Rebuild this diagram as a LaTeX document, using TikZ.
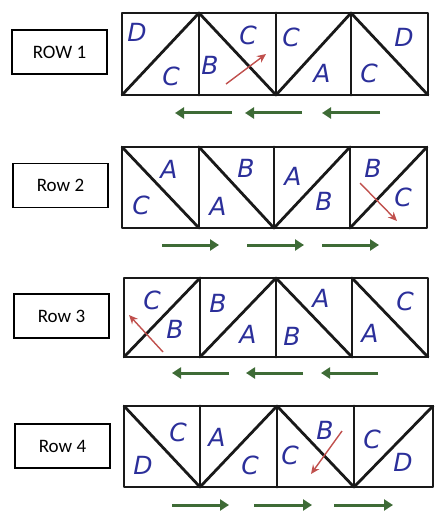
\documentclass[tikz,border=0pt]{standalone}
\usepackage{fontspec}
\setmainfont{Carlito}
\newfontfamily\handfont{DejaVu Sans}[ItalicFont={DejaVu Sans Oblique}]
\usetikzlibrary{arrows.meta}
\definecolor{inkblue}{HTML}{2B2F9A}
\definecolor{arrred}{HTML}{C0504D}
\definecolor{arrgreen}{HTML}{3E6B36}
\tikzset{
  grid/.style={line width=2.8pt, line cap=round, line join=round, draw=black!90},
  diag/.style={line width=2.8pt, line cap=round, draw=black!90},
  lbl/.style={draw, line width=1.6pt, minimum width=95pt, minimum height=44pt, font=\fontsize{19}{19}\selectfont, inner sep=0pt},
  let/.style={text=inkblue, font=\handfont\itshape\fontsize{25}{25}\selectfont, inner sep=0pt},
  red/.style={draw=arrred, line width=1.4pt, -{Stealth[length=9pt,width=8pt]}},
  grn/.style={draw=arrgreen, line width=3pt, -{Triangle[length=9pt,width=11pt]}}
}
\begin{document}
\begin{tikzpicture}[x=1pt,y=-1pt]
\useasboundingbox (0,0) rectangle (447,513);
% ---------- Row 1 ----------
\node[lbl] (L1) at (59.5,52) {ROW 1};
\draw[grid] (122,13) rectangle (428,95);
\draw[grid] (199,13) -- (199,95) (276,13) -- (276,95) (351,13) -- (351,95);
\draw[diag] (122,95) -- (199,13) (199,13) -- (276,95) (276,95) -- (351,13) (351,13) -- (428,95);
\node[let] (r1a) at (137,32) {D};
\node[let] (r1b) at (171,76) {C};
\node[let] (r1c) at (210,65) {B};
\node[let] (r1d) at (248,35) {C};
\node[let] (r1e) at (291,37) {C};
\node[let] (r1f) at (322,73) {A};
\node[let] (r1g) at (369,73) {C};
\node[let] (r1h) at (404,37) {D};
\coordinate (r1s) at (226,84); \coordinate (r1t) at (266,54);
\draw[red] (r1s) -- (r1t);
\coordinate (g1a) at (232,113); \coordinate (g1b) at (175,113);
\coordinate (g1c) at (302,113); \coordinate (g1d) at (245,113);
\coordinate (g1e) at (380,113); \coordinate (g1f) at (322,113);
\draw[grn] (g1a) -- (g1b); \draw[grn] (g1c) -- (g1d); \draw[grn] (g1e) -- (g1f);
% ---------- Row 2 ----------
\node[lbl] (L2) at (60.5,185.5) {Row 2};
\draw[grid] (122,147) rectangle (427,228);
\draw[grid] (199,147) -- (199,228) (274,147) -- (274,228) (350,147) -- (350,228);
\draw[diag] (122,147) -- (199,228) (199,147) -- (274,228) (274,228) -- (350,147) (350,228) -- (427,147);
\node[let] (r2a) at (169,169) {A};
\node[let] (r2b) at (141,205) {C};
\node[let] (r2c) at (246,168) {B};
\node[let] (r2d) at (218,206) {A};
\node[let] (r2e) at (293,176) {A};
\node[let] (r2f) at (324,201) {B};
\node[let] (r2g) at (373,168) {B};
\node[let] (r2h) at (403,197) {C};
\coordinate (r2s) at (360,183); \coordinate (r2t) at (397,221);
\draw[red] (r2s) -- (r2t);
\coordinate (g2a) at (162,245); \coordinate (g2b) at (219,245);
\coordinate (g2c) at (247,245); \coordinate (g2d) at (304,245);
\coordinate (g2e) at (322,245); \coordinate (g2f) at (379,245);
\draw[grn] (g2a) -- (g2b); \draw[grn] (g2c) -- (g2d); \draw[grn] (g2e) -- (g2f);
% ---------- Row 3 ----------
\node[lbl] (L3) at (61.5,316) {Row 3};
\draw[grid] (124,278) rectangle (428,357);
\draw[grid] (200,278) -- (200,357) (276,278) -- (276,357) (352,278) -- (352,357);
\draw[diag] (124,357) -- (200,278) (200,357) -- (276,278) (276,278) -- (352,357) (352,278) -- (428,357);
\node[let] (r3a) at (152,300) {C};
\node[let] (r3b) at (175,329) {B};
\node[let] (r3c) at (218,303) {B};
\node[let] (r3d) at (248,334) {A};
\node[let] (r3e) at (292,336) {B};
\node[let] (r3f) at (321,298) {A};
\node[let] (r3g) at (370,333) {A};
\node[let] (r3h) at (405,301) {C};
\coordinate (r3s) at (163,352); \coordinate (r3t) at (129,315);
\draw[red] (r3s) -- (r3t);
\coordinate (g3a) at (229,373); \coordinate (g3b) at (172,373);
\coordinate (g3c) at (303,373); \coordinate (g3d) at (246,373);
\coordinate (g3e) at (378,373); \coordinate (g3f) at (321,373);
\draw[grn] (g3a) -- (g3b); \draw[grn] (g3c) -- (g3d); \draw[grn] (g3e) -- (g3f);
% ---------- Row 4 ----------
\node[lbl] (L4) at (62.5,446) {Row 4};
\draw[grid] (124,406) rectangle (433,487);
\draw[grid] (200,406) -- (200,487) (277,406) -- (277,487) (354,406) -- (354,487);
\draw[diag] (124,406) -- (200,487) (200,487) -- (277,406) (277,406) -- (354,487) (354,487) -- (433,406);
\node[let] (r4a) at (178,432) {C};
\node[let] (r4b) at (143,465) {D};
\node[let] (r4c) at (217,437) {A};
\node[let] (r4d) at (250,465) {C};
\node[let] (r4e) at (290,455) {C};
\node[let] (r4f) at (325,430) {B};
\node[let] (r4g) at (372,439) {C};
\node[let] (r4h) at (403,462) {D};
\coordinate (r4s) at (342,431); \coordinate (r4t) at (311,474);
\draw[red] (r4s) -- (r4t);
\coordinate (g4a) at (172,505); \coordinate (g4b) at (229,505);
\coordinate (g4c) at (254,505); \coordinate (g4d) at (312,505);
\coordinate (g4e) at (334,505); \coordinate (g4f) at (393,505);
\draw[grn] (g4a) -- (g4b); \draw[grn] (g4c) -- (g4d); \draw[grn] (g4e) -- (g4f);
\end{tikzpicture}
\end{document}
